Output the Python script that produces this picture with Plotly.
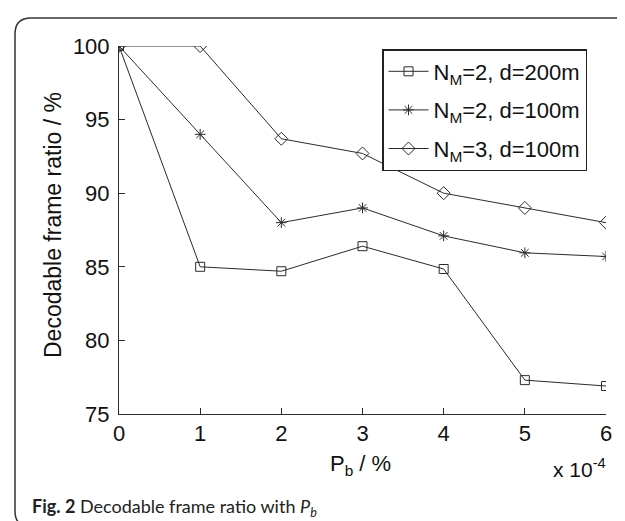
import plotly.graph_objects as go

# ---- data ----
pb = [0, 1, 2, 3, 4, 5, 6]
nm2_d200 = [100, 85.0, 84.7, 86.4, 84.85, 77.3, 76.9]
nm2_d100 = [100, 94.0, 88.0, 89.0, 87.1, 85.95, 85.7]
nm3_d100 = [100, 100, 93.7, 92.7, 90.0, 89.0, 88.0]
names = ["N<sub>M</sub>=2, d=200m", "N<sub>M</sub>=2, d=100m", "N<sub>M</sub>=3, d=100m"]
xticks = [0, 1, 2, 3, 4, 5, 6]
yticks = [75, 80, 85, 90, 95, 100]

FW, FH = 625, 521
L, R, T, B = 111, 27, 38, 115
W = FW - L - R
H = FH - T - B

def px(xp):
    return (xp - L) / W

def py(yp):
    return (FH - B - yp) / H

ink = "#2b2b2b"
font = "Liberation Sans, Arial, sans-serif"
FS = 22

fig = go.Figure()
series = [nm2_d200, nm2_d100, nm3_d100]
symbols = ["square-open", "asterisk-open", "diamond-open"]
sizes = [9, 9, 10]
for i, (vals, nm, sym, sz) in enumerate(zip(series, names, symbols, sizes)):
    fig.add_trace(go.Scatter(
        x=pb, y=vals, name=nm, mode="lines+markers",
        line=dict(color=ink, width=1),
        marker=dict(symbol=sym, size=sz, color=ink, line=dict(color=ink, width=1)),
        legendgroup=f"g{i}",
    ))

# rounded border around the figure
x0, x1 = px(7), px(660)
y0, y1 = py(10), py(519)
rx = 16 / W
ry = 16 / H
path = (f"M {x1},{y0} L {x0+rx},{y0} Q {x0},{y0} {x0},{y0-ry} "
        f"L {x0},{y1+ry} Q {x0},{y1} {x0+rx},{y1} L {x1},{y1}")
fig.add_shape(type="path", xref="paper", yref="paper", path=path,
              line=dict(color="#333333", width=1.5), layer="below")

fig.add_annotation(x=px(45), y=py(217), xref="paper", yref="paper",
                   xanchor="center", yanchor="middle",
                   text="Decodable frame ratio / %", textangle=-90, showarrow=False,
                   font=dict(family=font, size=FS + 1, color="#111"))
fig.add_annotation(x=px(352), y=py(441), xref="paper", yref="paper",
                   xanchor="center", yanchor="top",
                   text="P<sub>b</sub> / %", showarrow=False,
                   font=dict(family=font, size=FS, color="#111"))
fig.add_annotation(x=px(600), y=py(445), xref="paper", yref="paper", xanchor="right", yanchor="top",
                   text="x 10<sup>-4</sup>", showarrow=False,
                   font=dict(family=font, size=FS - 1, color="#111"))
fig.add_annotation(x=px(22), y=py(499), xref="paper", yref="paper", xanchor="left",
                   yanchor="middle",
                   text="<b>Fig. 2</b> Decodable frame ratio with <i>P<sub>b</sub></i>",
                   showarrow=False,
                   font=dict(family="Lato, Open Sans, sans-serif", size=18, color="#222"))

fig.update_layout(
    width=FW, height=FH,
    margin=dict(l=L, r=R, t=T, b=B, pad=0),
    paper_bgcolor="white", plot_bgcolor="white",
    showlegend=True,
    legend=dict(x=px(374), y=py(41), xanchor="left", yanchor="top",
                bgcolor="white", bordercolor="#222", borderwidth=1.5,
                font=dict(family=font, size=FS, color="#111"),
                tracegroupgap=7, itemwidth=40),
    xaxis=dict(range=[0, 6], tickvals=xticks, ticks="inside", ticklen=6,
               tickcolor=ink, showline=True, linecolor=ink, linewidth=1,
               showgrid=False, zeroline=False,
               tickfont=dict(family=font, size=FS, color="#111")),
    yaxis=dict(range=[75, 100], tickvals=yticks, ticks="inside", ticklen=6,
               tickcolor=ink, showline=True, linecolor=ink, linewidth=1,
               showgrid=False, zeroline=False, ticklabelstandoff=4,
               tickfont=dict(family=font, size=FS, color="#111")),
)
fig.write_html("out.html")
